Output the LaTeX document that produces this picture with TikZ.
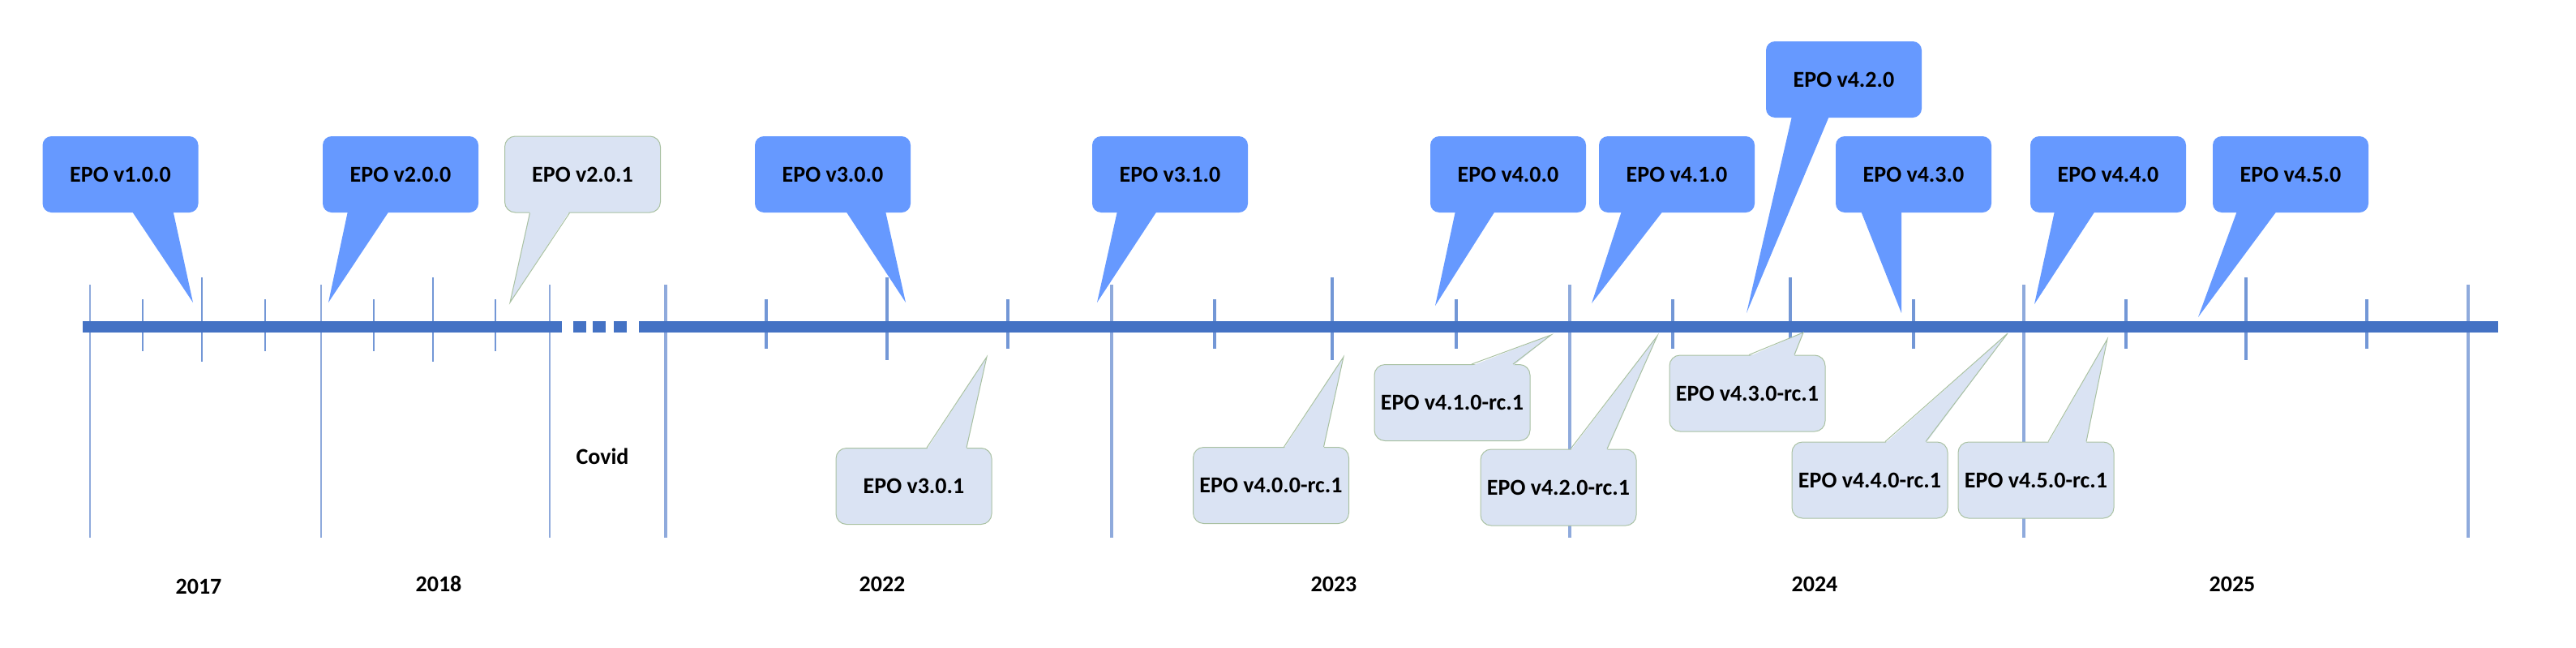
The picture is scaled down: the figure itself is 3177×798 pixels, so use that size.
\documentclass[tikz,border=0pt]{standalone}
\usepackage{fontspec}
\setmainfont{Carlito}
\usetikzlibrary{calc}

\definecolor{barblue}{HTML}{4472C4}
\definecolor{relblue}{HTML}{6699FF}
\definecolor{rcblue}{HTML}{DAE3F3}
\definecolor{rcedge}{HTML}{A9C1A2}
\definecolor{yearline}{HTML}{8FAADC}
\definecolor{tickblue}{HTML}{7397D6}

\tikzset{
  relbox/.style={fill=relblue, rounded corners=11pt, minimum width=192pt, minimum height=94pt,
    inner sep=0pt, font=\bfseries\fontsize{28}{32}\selectfont},
  rcbox/.style={relbox, fill=rcblue, draw=rcedge, line width=1pt, rounded corners=13pt},
  yearlbl/.style={font=\bfseries\fontsize{28}{32}\selectfont}
}

\begin{document}
\begin{tikzpicture}[x=1pt,y=-1pt]
    \useasboundingbox (0,0) rectangle (3177,798);

    % --- timeline: year lines, quarter ticks, bar ---
    \foreach \x in {111,396,678} \draw[yearline, line width=2.5pt] (\x,351) -- (\x,663);
    \foreach \x in {821,1371,1936,2496,3044} \draw[yearline, line width=3.5pt] (\x,351) -- (\x,663);
    \foreach \x in {176,327,461,611} \draw[tickblue, line width=2pt] (\x,369) -- (\x,433);
    \foreach \x in {249,534} \draw[tickblue, line width=2pt] (\x,342) -- (\x,446);
    \foreach \x in {945,1243,1498,1796,2063,2360,2622,2919} \draw[tickblue, line width=4pt] (\x,369) -- (\x,430);
    \foreach \x in {1094,1643,2208,2770} \draw[tickblue, line width=4pt] (\x,342) -- (\x,444);

    \fill[barblue] (102,395.5) rectangle (693,409.5);
    \foreach \x in {707,731,757} \fill[barblue] (\x,395.5) rectangle ++(16,14); % gap
    \fill[barblue] (788,395.5) rectangle (3081,409.5);

    % years
    \node[yearlbl] (y17) at (245,723) {2017};
    \node[yearlbl] (y18) at (541,720) {2018};
    \node[yearlbl] (cov) at (743,563) {Covid};
    \node[yearlbl] (y22) at (1088,720) {2022};
    \node[yearlbl] (y23) at (1645,720) {2023};
    \node[yearlbl] (y24) at (2238,720) {2024};
    \node[yearlbl] (y25) at (2753,720) {2025};

    % --- releases (above) ---
    \node[relbox] (v100) at (148.5,215) {EPO v1.0.0};
    \node[relbox] (v200) at (494,215) {EPO v2.0.0};
    \node[relbox] (v300) at (1027,215) {EPO v3.0.0};
    \node[relbox] (v310) at (1443,215) {EPO v3.1.0};
    \node[relbox] (v400) at (1860,215) {EPO v4.0.0};
    \node[relbox] (v410) at (2068,215) {EPO v4.1.0};
    \node[relbox] (v420) at (2274,98) {EPO v4.2.0};
    \node[relbox] (v430) at (2360,215) {EPO v4.3.0};
    \node[relbox] (v440) at (2600,215) {EPO v4.4.0};
    \node[relbox] (v450) at (2825,215) {EPO v4.5.0};

    \coordinate (pv100) at (238,373); \coordinate (pv200) at (405,373);
    \coordinate (pv300) at (1117,373); \coordinate (pv310) at (1353,373);
    \coordinate (pv400) at (1770,377); \coordinate (pv410) at (1963,374);
    \coordinate (pv420) at (2154,386); \coordinate (pv430) at (2345,386);
    \coordinate (pv440) at (2509,375); \coordinate (pv450) at (2711,391);

    \foreach \n/\a/\b in {v100/14/65, v200/-65/-14, v300/16/65, v310/-65/-16, v400/-65/-16,
                          v410/-68/-17, v420/-64/-18, v430/-65/-15, v440/-66/-16, v450/-66/-17}
        \fill[relblue] ($(\n.south)+(\a,-2)$) -- (p\n) -- ($(\n.south)+(\b,-2)$) -- cycle;

    % --- patches and release candidates ---
    \node[rcbox] (v201) at (718.5,215) {EPO v2.0.1};
    \coordinate (pv201) at (629,373);
    \fill[rcblue] ($(v201.south)+(-65,-2)$) -- (pv201) -- ($(v201.south)+(-16,-2)$) -- cycle;
    \draw[rcedge, line width=1pt] ($(v201.south)+(-65,0)$) -- (pv201) -- ($(v201.south)+(-16,0)$);

    \node[rcbox] (v301) at (1127,599.5) {EPO v3.0.1};
    \node[rcbox] (v400rc) at (1567.5,598.5) {EPO v4.0.0-rc.1};
    \node[rcbox] (v410rc) at (1791,496.5) {EPO v4.1.0-rc.1};
    \node[rcbox] (v420rc) at (1922,601) {EPO v4.2.0-rc.1};
    \node[rcbox] (v430rc) at (2155,485) {EPO v4.3.0-rc.1};
    \node[rcbox] (v440rc) at (2306,592) {EPO v4.4.0-rc.1};
    \node[rcbox] (v450rc) at (2511,592) {EPO v4.5.0-rc.1};

    \coordinate (pv301) at (1217,440); \coordinate (pv400rc) at (1657,440);
    \coordinate (pv410rc) at (1913,413); \coordinate (pv420rc) at (2044,414);
    \coordinate (pv430rc) at (2224,410); \coordinate (pv440rc) at (2476,411);
    \coordinate (pv450rc) at (2599,418);

    \foreach \n/\a/\b in {v301/16/65, v400rc/16/65, v410rc/24/75, v420rc/15/60,
                          v430rc/2/58, v440rc/19/69, v450rc/15/62} {
        \fill[rcblue] ($(\n.north)+(\a,2)$) -- (p\n) -- ($(\n.north)+(\b,2)$) -- cycle;
        \draw[rcedge, line width=1pt] ($(\n.north)+(\a,0)$) -- (p\n) -- ($(\n.north)+(\b,0)$);
    }
\end{tikzpicture}
\end{document}
